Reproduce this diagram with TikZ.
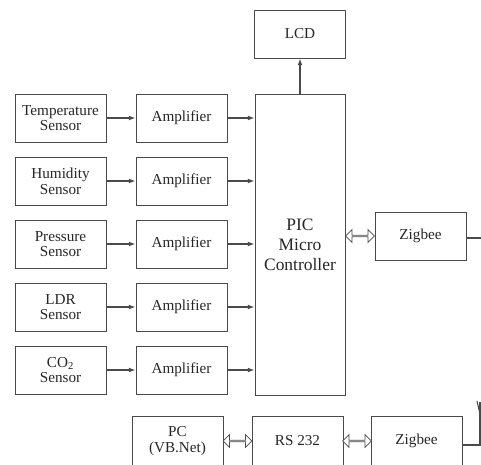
\documentclass[tikz,border=0pt]{standalone}
\usepackage{fontspec}
\setmainfont{Liberation Serif}
\usepackage{xcolor}
\usetikzlibrary{arrows.meta,positioning,shapes.arrows}
\definecolor{linegray}{HTML}{4A4A4A}
\definecolor{textgray}{HTML}{262626}
\tikzset{
  box/.style={draw=linegray, line width=0.75pt, align=center, text=textgray, minimum width=68.25pt, minimum height=36pt, inner sep=1pt, font=\fontsize{11.4}{11.8}\selectfont},
  picbox/.style={box, minimum width=67.5pt, minimum height=225.75pt, font=\fontsize{13.1}{15}\selectfont},
  lowbox/.style={box, minimum height=37.5pt},
  line/.style={-{Latex[length=5pt,width=3.6pt]}, linegray, line width=0.8pt},
  link/.style={draw=linegray, fill=white, line width=0.6pt, shape=double arrow, inner sep=0pt, minimum height=21.5pt, minimum width=9.4pt, double arrow head extend=2.4pt, double arrow head indent=0pt},
  wire/.style={linegray, line width=0.8pt}
}
\begin{document}
\begin{tikzpicture}[x=0.75pt, y=-0.75pt, node distance=10.5pt and 21.75pt]
  \clip (0,0) rectangle (481,464);
  % sensor chain
  \node[box] (s1) at (60.5,118) {Temperature\\Sensor};
  \node[box, below=of s1] (s2) {Humidity\\Sensor};
  \node[box, below=of s2] (s3) {Pressure\\Sensor};
  \node[box, below=of s3] (s4) {LDR\\Sensor};
  \node[box, below=of s4] (s5) {CO\textsubscript{2}\\Sensor};
  \node[box, right=of s1] (a1) {Amplifier};
  \node[box, right=of s2] (a2) {Amplifier};
  \node[box, right=of s3] (a3) {Amplifier};
  \node[box, right=of s4] (a4) {Amplifier};
  \node[box, right=of s5] (a5) {Amplifier};
  % controller side
  \node[picbox] (pic) at (300,244.5) {PIC\\Micro\\Controller};
  \node[box, above=26.25pt of pic] (lcd) {LCD};
  \node[box] (zb1) at (420.5,236) {Zigbee};
  % pc side
  \node[lowbox] (pc) at (177.5,441) {PC\\(VB.Net)};
  \node[lowbox] (rs) at (297.5,441) {RS 232};
  \node[lowbox] (zb2) at (416.5,441) {Zigbee};
  \coordinate (out1) at (482,238);
  \coordinate (out2) at (480,445);
  \coordinate (ant) at (480,402);
  \coordinate (arm) at (477,401);
  \coordinate (armend) at (480,414);
  \foreach \i in {1,...,5} {
    \draw[line] (s\i) -- (a\i);
    \draw[line] (a\i.east) -- (a\i.east -| pic.west);
  }
  \draw[line] (pic) -- (lcd);
  \path (pic.east |- zb1.west) -- node[link] (l1) {} (zb1.west);
  \draw[wire] (zb1.east |- out1) -- (out1);
  \path (pc) -- node[link] (l2) {} (rs);
  \path (rs) -- node[link] (l3) {} (zb2);
  \draw[wire] (zb2.east |- out2) -- (out2) -- (ant);
  \draw[wire] (arm) -- (armend);
\end{tikzpicture}
\end{document}
